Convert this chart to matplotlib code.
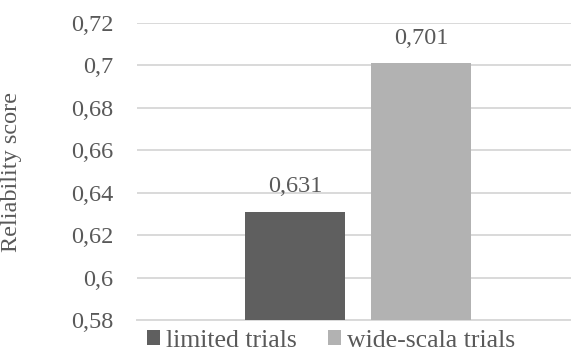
import matplotlib
matplotlib.use("Agg")
import matplotlib.pyplot as plt
from matplotlib.patches import Patch
from matplotlib.ticker import FuncFormatter

# Data
series_names = ["limited trials", "wide-scala trials"]
series_values = [0.631, 0.701]
series_colors = ["#5f5f5f", "#b2b2b2"]
y_ticks = [0.58, 0.60, 0.62, 0.64, 0.66, 0.68, 0.70, 0.72]
y_label = "Reliability score"

text_color = "#595959"
grid_color = "#d9d9d9"
plt.rcParams["font.family"] = ["Liberation Serif", "DejaVu Serif"]
fs = 17.5
legend_fs = 18.5

fig = plt.figure(figsize=(5.71, 3.55), dpi=100)
ax = fig.add_axes([137 / 571, 1 - 320 / 355, 442 / 571, 297 / 355])

bar_width = 1.0
offsets = [-0.63, 0.63]
for off, val, col, name in zip(offsets, series_values, series_colors, series_names):
    ax.bar(off, val - y_ticks[0], bottom=y_ticks[0], width=bar_width,
           color=col, label=name, zorder=3)
    ax.annotate(f"{val:.3f}".replace(".", ","), xy=(off, val),
                xytext=(0, 18), textcoords="offset points",
                ha="center", va="center", fontsize=fs, color=text_color)

ax.set_xlim(-2.21, 2.21)
ax.set_ylim(y_ticks[0], y_ticks[-1])
ax.set_yticks(y_ticks)


def fmt(v, _):
    s = f"{v:.2f}".rstrip("0").rstrip(".")
    return s.replace(".", ",")


ax.yaxis.set_major_formatter(FuncFormatter(fmt))
ax.tick_params(axis="y", length=0, pad=17, labelsize=fs, labelcolor=text_color)
ax.set_xticks([])
ax.grid(axis="y", color=grid_color, linewidth=1.4, zorder=0)
for side in ["top", "right", "left"]:
    ax.spines[side].set_visible(False)
ax.spines["bottom"].set_color(grid_color)
ax.spines["bottom"].set_linewidth(1.4)

ax.set_ylabel(y_label, fontsize=fs, color=text_color)
ax.yaxis.set_label_coords((22 - 137) / 442, 0.5)

handles = [Patch(facecolor=c, edgecolor="none") for c in series_colors]
fig.legend(handles, series_names, loc="center",
           bbox_to_anchor=(331 / 571, 1 - 341 / 355), ncol=2, frameon=False,
           fontsize=legend_fs, labelcolor=text_color, handlelength=0.52,
           handleheight=0.52, handletextpad=0.22, columnspacing=1.2,
           borderpad=0, borderaxespad=0)

fig.savefig("out.png", dpi=100)
